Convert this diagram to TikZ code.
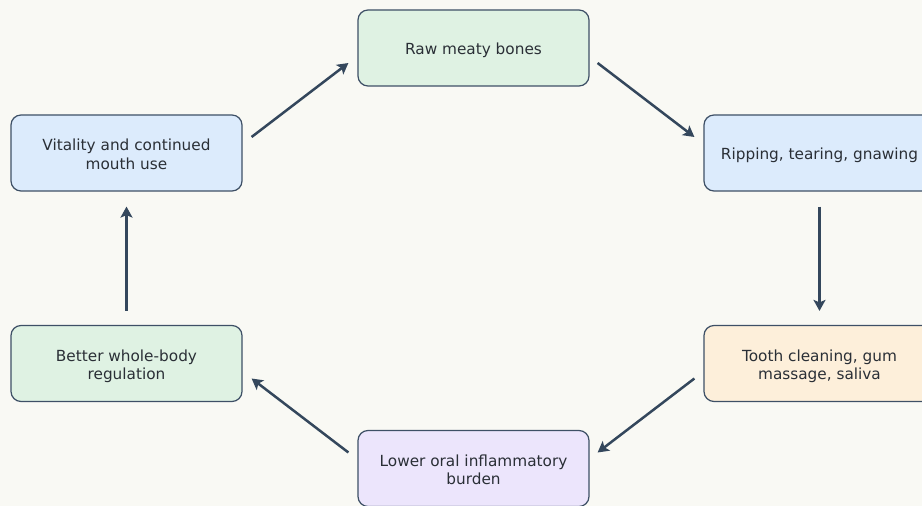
\documentclass[tikz,border=0pt]{standalone}
\usepackage{fontspec}
\setmainfont{DejaVu Sans}
\usetikzlibrary{arrows.meta}

\begin{document}
\begin{tikzpicture}[x=1pt,y=1pt,
	stepbox/.style={draw=edgegray,line width=1.2pt,rounded corners=10pt,minimum width=231pt,minimum height=76pt,align=center,text=textgray,font=\fontsize{15.3}{18.4}\selectfont,
		execute at begin node={\rule{0pt}{17.4pt}},execute at end node={\rule[-4pt]{0pt}{4pt}}},
	twoline/.style={execute at begin node={\rule{0pt}{36.6pt}}},
	arr/.style={draw=arrowblue,line width=2.5pt,-{Stealth[length=11pt,width=12pt,inset=2.5pt]}}]
					\definecolor{bggray}{HTML}{F9F9F4}
					\definecolor{edgegray}{HTML}{3E5066}
					\definecolor{arrowblue}{HTML}{34475C}
					\definecolor{textgray}{HTML}{2A2F36}
					\definecolor{mintgreen}{HTML}{DFF2E3}
					\definecolor{paleblue}{HTML}{DCEBFC}
					\definecolor{palepeach}{HTML}{FDEFDA}
					\definecolor{palelilac}{HTML}{ECE5FC}
					
					\fill[bggray] (0,0) rectangle (922,506);
					\useasboundingbox (0,0) rectangle (922,506);
					
					% boxes
					\node[stepbox,fill=mintgreen] (raw) at (473.5,458) {Raw meaty bones};
					\node[stepbox,fill=paleblue] (rip) at (819.5,353) {Ripping, tearing, gnawing};
					\node[stepbox,twoline,fill=palepeach] (tooth) at (819.5,142.5) {Tooth cleaning, gum\\massage, saliva};
					\node[stepbox,twoline,fill=palelilac] (lower) at (473.5,37.5) {Lower oral inflammatory\\burden};
					\node[stepbox,twoline,fill=mintgreen] (better) at (126.5,142.5) {Better whole-body\\regulation};
					\node[stepbox,twoline,fill=paleblue] (vit) at (126.5,353) {Vitality and continued\\mouth use};
					
					% arrows
					\draw[arr] ([xshift=9pt,yshift=16pt]vit.east) -- ([xshift=-9pt,yshift=-15pt]raw.west);
					\draw[arr] ([xshift=8pt,yshift=-15pt]raw.east) -- ([xshift=-9pt,yshift=16pt]rip.west);
					\draw[arr] ([yshift=-15pt]rip.south) -- ([yshift=14pt]tooth.north);
					\draw[arr] ([xshift=-9pt,yshift=-15pt]tooth.west) -- ([xshift=8pt,yshift=16pt]lower.east);
					\draw[arr] ([xshift=-9pt,yshift=16pt]lower.west) -- ([xshift=9pt,yshift=-15pt]better.east);
					\draw[arr] ([yshift=14pt]better.north) -- ([yshift=-15pt]vit.south);
				\end{tikzpicture}
\end{document}
